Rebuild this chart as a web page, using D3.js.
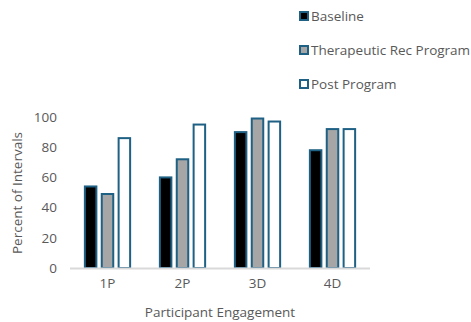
<!DOCTYPE html>
<html>
<head>
<meta charset="utf-8">
<script src="https://cdn.jsdelivr.net/npm/d3@7"></script>
<style>
  html, body { margin: 0; padding: 0; background: #fff; }
  svg { display: block; font-family: "Open Sans", "Noto Sans", sans-serif; }
</style>
</head>
<body>
<svg id="chart" width="471" height="322"></svg>
<script>
// Participant engagement categories and the three measurement phases
const categories = ["1P", "2P", "3D", "4D"];
const seriesNames = ["Baseline", "Therapeutic Rec Program", "Post Program"];
const baseline = [54, 60, 90, 78];
const therapeutic = [49, 72, 99, 92];
const postProgram = [86, 95, 97, 92];
const yTicks = [0, 20, 40, 60, 80, 100];

const seriesValues = [baseline, therapeutic, postProgram];
const fills = ["#000000", "#a6a6a6", "#ffffff"];
const strokeColor = "#1f6184";
const textColor = "#595959";
const fontSize = 13.5;

const svg = d3.select("#chart");
const plot = { left: 70, right: 370, top: 117, bottom: 268 };

const x0 = d3.scaleBand().domain(categories).range([plot.left, plot.right]).paddingInner(0.37).paddingOuter(0.185);
const x1 = d3.scaleBand().domain(seriesNames).range([0, x0.bandwidth()]).paddingInner(0.2);
const y = d3.scaleLinear().domain([0, 100]).range([plot.bottom, plot.top]);

// Y tick labels (no axis line, no gridlines)
svg.append("g").selectAll("text").data(yTicks).join("text")
  .attr("x", 57).attr("y", d => y(d)).attr("dy", "0.35em")
  .attr("text-anchor", "end").attr("font-size", fontSize).attr("fill", textColor)
  .text(d => d);

// Bars
const rows = categories.map((c, i) => ({ cat: c, vals: seriesNames.map((s, j) => ({ s, j, v: seriesValues[j][i] })) }));
svg.append("g").selectAll("g").data(rows).join("g")
  .attr("transform", d => `translate(${x0(d.cat)},0)`)
  .selectAll("rect").data(d => d.vals).join("rect")
  .attr("x", d => x1(d.s) + 1)
  .attr("width", x1.bandwidth() - 2)
  .attr("y", d => y(d.v))
  .attr("height", d => y(0) - y(d.v))
  .attr("fill", d => fills[d.j])
  .attr("stroke", strokeColor).attr("stroke-width", 2);

// Category axis line
svg.append("line")
  .attr("x1", plot.left).attr("x2", plot.right)
  .attr("y1", plot.bottom + 0.5).attr("y2", plot.bottom + 0.5)
  .attr("stroke", "#d9d9d9").attr("stroke-width", 2);

// Category labels
svg.append("g").selectAll("text").data(categories).join("text")
  .attr("x", d => x0(d) + x0.bandwidth() / 2).attr("y", 288)
  .attr("text-anchor", "middle").attr("font-size", fontSize).attr("fill", textColor)
  .text(d => d);

// Axis titles
svg.append("text")
  .attr("x", 220).attr("y", 317)
  .attr("text-anchor", "middle").attr("font-size", fontSize).attr("fill", textColor)
  .text("Participant Engagement");

svg.append("text")
  .attr("transform", "translate(22,193) rotate(-90)")
  .attr("text-anchor", "middle").attr("font-size", fontSize).attr("fill", textColor)
  .text("Percent of Intervals");

// Legend
const legend = svg.append("g").selectAll("g").data(seriesNames).join("g")
  .attr("transform", (d, i) => `translate(300,${16 + i * 34})`);
legend.append("rect")
  .attr("x", 0).attr("y", -4).attr("width", 8).attr("height", 8)
  .attr("fill", (d, i) => fills[i]).attr("stroke", strokeColor).attr("stroke-width", 2);
legend.append("text")
  .attr("x", 11).attr("y", 0).attr("dy", "0.35em")
  .attr("font-size", fontSize).attr("fill", textColor)
  .text(d => d);
</script>
</body>
</html>
